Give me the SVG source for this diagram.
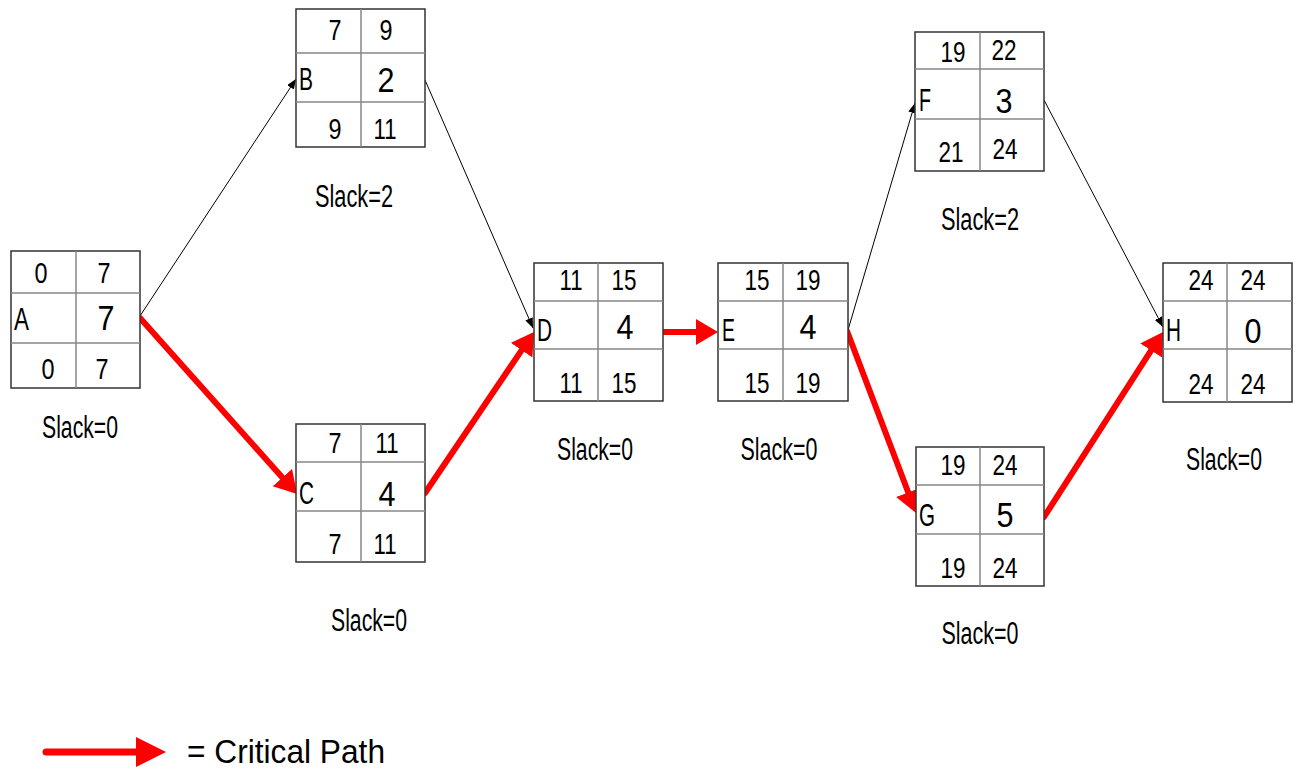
<svg xmlns="http://www.w3.org/2000/svg" width="1302" height="769" viewBox="0 0 1302 769">
<style>
.box{fill:#fff;stroke:#333;stroke-width:1.5}
.div{stroke:#888;stroke-width:1.5;fill:none}
.n{font-family:"Liberation Sans",Arial,sans-serif;font-size:30px;fill:#000;text-anchor:middle}
.big{font-family:"Liberation Sans",Arial,sans-serif;font-size:35px;fill:#000;text-anchor:middle}
.lbl{font-family:"Liberation Sans",Arial,sans-serif;font-size:31px;fill:#000}
.sl{font-family:"Liberation Sans",Arial,sans-serif;font-size:31px;fill:#000;text-anchor:middle}
.blk{stroke:#000;stroke-width:1;fill:none;marker-end:url(#ah)}
.red{stroke:#f00;stroke-width:6;fill:none;stroke-linecap:round;marker-end:url(#rh)}
</style>
<defs>
<marker id="ah" markerUnits="userSpaceOnUse" markerWidth="12" markerHeight="10" refX="10" refY="4" orient="auto"><path d="M0,0 L10,4 L0,8 z" fill="#000"/></marker>
<marker id="rh" markerUnits="userSpaceOnUse" markerWidth="24" markerHeight="28" refX="14" refY="13" orient="auto"><path d="M0,0 L22,13 L0,26 z" fill="#f00"/></marker>
</defs>
<rect width="1302" height="769" fill="#fff"/>

<g id="connectors">
<line class="blk" x1="140" y1="316" x2="296" y2="79"/>
<line class="blk" x1="425" y1="80" x2="533" y2="328"/>
<line class="blk" x1="848" y1="330" x2="915" y2="103"/>
<line class="blk" x1="1044" y1="100" x2="1163" y2="327"/>
<line class="red" x1="140" y1="318" x2="291.7" y2="488"/>
<line class="red" x1="425" y1="493" x2="529.5" y2="338.6"/>
<line class="red" x1="662" y1="332" x2="710" y2="332"/>
<line class="red" x1="847" y1="331" x2="913.2" y2="505.5"/>
<line class="red" x1="1044" y1="517" x2="1158.7" y2="338.7"/>
</g>

<g id="node-A">
<rect class="box" x="11" y="251" width="129" height="137"/>
<path class="div" d="M76,251V388M11,293H140M11,343H140"/>
<text class="n" x="41" y="283" textLength="13" lengthAdjust="spacingAndGlyphs">0</text>
<text class="n" x="104" y="283" textLength="13" lengthAdjust="spacingAndGlyphs">7</text>
<text class="lbl" x="14" y="330" textLength="15" lengthAdjust="spacingAndGlyphs">A</text>
<text class="big" x="106" y="330" textLength="17" lengthAdjust="spacingAndGlyphs">7</text>
<text class="n" x="48" y="379" textLength="13" lengthAdjust="spacingAndGlyphs">0</text>
<text class="n" x="102" y="379" textLength="13" lengthAdjust="spacingAndGlyphs">7</text>
</g>

<g id="node-B">
<rect class="box" x="296" y="9" width="129" height="138"/>
<path class="div" d="M361,9V147M296,53H425M296,102H425"/>
<text class="n" x="335" y="40" textLength="13" lengthAdjust="spacingAndGlyphs">7</text>
<text class="n" x="386" y="40" textLength="13" lengthAdjust="spacingAndGlyphs">9</text>
<text class="lbl" x="299" y="90" textLength="14" lengthAdjust="spacingAndGlyphs">B</text>
<text class="big" x="386" y="92" textLength="17" lengthAdjust="spacingAndGlyphs">2</text>
<text class="n" x="335" y="139" textLength="13" lengthAdjust="spacingAndGlyphs">9</text>
<text class="n" x="385" y="139" textLength="23" lengthAdjust="spacingAndGlyphs">11</text>
</g>

<g id="node-C">
<rect class="box" x="296" y="424" width="129" height="138"/>
<path class="div" d="M361,424V562M296,462H425M296,511H425"/>
<text class="n" x="335" y="453" textLength="13" lengthAdjust="spacingAndGlyphs">7</text>
<text class="n" x="387" y="453" textLength="23" lengthAdjust="spacingAndGlyphs">11</text>
<text class="lbl" x="299" y="504" textLength="15" lengthAdjust="spacingAndGlyphs">C</text>
<text class="big" x="387" y="506" textLength="17" lengthAdjust="spacingAndGlyphs">4</text>
<text class="n" x="335" y="554" textLength="13" lengthAdjust="spacingAndGlyphs">7</text>
<text class="n" x="385" y="554" textLength="23" lengthAdjust="spacingAndGlyphs">11</text>
</g>

<g id="node-D">
<rect class="box" x="534" y="263" width="129" height="138"/>
<path class="div" d="M598,263V401M534,301H663M534,349H663"/>
<text class="n" x="571" y="290" textLength="23" lengthAdjust="spacingAndGlyphs">11</text>
<text class="n" x="624" y="290" textLength="25" lengthAdjust="spacingAndGlyphs">15</text>
<text class="lbl" x="537" y="341" textLength="15" lengthAdjust="spacingAndGlyphs">D</text>
<text class="big" x="625" y="339" textLength="17" lengthAdjust="spacingAndGlyphs">4</text>
<text class="n" x="571" y="393" textLength="23" lengthAdjust="spacingAndGlyphs">11</text>
<text class="n" x="624" y="393" textLength="25" lengthAdjust="spacingAndGlyphs">15</text>
</g>

<g id="node-E">
<rect class="box" x="718" y="263" width="130" height="138"/>
<path class="div" d="M783,263V401M718,301H848M718,349H848"/>
<text class="n" x="757" y="290" textLength="25" lengthAdjust="spacingAndGlyphs">15</text>
<text class="n" x="808" y="290" textLength="25" lengthAdjust="spacingAndGlyphs">19</text>
<text class="lbl" x="722" y="341" textLength="13" lengthAdjust="spacingAndGlyphs">E</text>
<text class="big" x="808" y="339" textLength="17" lengthAdjust="spacingAndGlyphs">4</text>
<text class="n" x="757" y="393" textLength="25" lengthAdjust="spacingAndGlyphs">15</text>
<text class="n" x="808" y="393" textLength="25" lengthAdjust="spacingAndGlyphs">19</text>
</g>

<g id="node-F">
<rect class="box" x="915" y="32" width="129" height="139"/>
<path class="div" d="M980,32V171M915,69H1044M915,119H1044"/>
<text class="n" x="953" y="62" textLength="25" lengthAdjust="spacingAndGlyphs">19</text>
<text class="n" x="1004" y="60" textLength="25" lengthAdjust="spacingAndGlyphs">22</text>
<text class="lbl" x="919" y="111" textLength="12" lengthAdjust="spacingAndGlyphs">F</text>
<text class="big" x="1004" y="113" textLength="17" lengthAdjust="spacingAndGlyphs">3</text>
<text class="n" x="951" y="162" textLength="25" lengthAdjust="spacingAndGlyphs">21</text>
<text class="n" x="1005" y="159" textLength="25" lengthAdjust="spacingAndGlyphs">24</text>
</g>

<g id="node-G">
<rect class="box" x="916" y="447" width="128" height="139"/>
<path class="div" d="M980,447V586M916,485H1044M916,534H1044"/>
<text class="n" x="953" y="475" textLength="25" lengthAdjust="spacingAndGlyphs">19</text>
<text class="n" x="1005" y="475" textLength="25" lengthAdjust="spacingAndGlyphs">24</text>
<text class="lbl" x="919" y="526" textLength="16" lengthAdjust="spacingAndGlyphs">G</text>
<text class="big" x="1005" y="527" textLength="17" lengthAdjust="spacingAndGlyphs">5</text>
<text class="n" x="953" y="578" textLength="25" lengthAdjust="spacingAndGlyphs">19</text>
<text class="n" x="1005" y="578" textLength="25" lengthAdjust="spacingAndGlyphs">24</text>
</g>

<g id="node-H">
<rect class="box" x="1163" y="263" width="129" height="139"/>
<path class="div" d="M1227,263V402M1163,301H1292M1163,349H1292"/>
<text class="n" x="1201" y="290" textLength="25" lengthAdjust="spacingAndGlyphs">24</text>
<text class="n" x="1253" y="290" textLength="25" lengthAdjust="spacingAndGlyphs">24</text>
<text class="lbl" x="1166" y="341" textLength="15" lengthAdjust="spacingAndGlyphs">H</text>
<text class="big" x="1253" y="343" textLength="17" lengthAdjust="spacingAndGlyphs">0</text>
<text class="n" x="1201" y="394" textLength="25" lengthAdjust="spacingAndGlyphs">24</text>
<text class="n" x="1253" y="394" textLength="25" lengthAdjust="spacingAndGlyphs">24</text>
</g>

<g id="slack-labels">
<text class="sl" x="80" y="438" textLength="76" lengthAdjust="spacingAndGlyphs">Slack=0</text>
<text class="sl" x="354" y="207" textLength="78" lengthAdjust="spacingAndGlyphs">Slack=2</text>
<text class="sl" x="369" y="631" textLength="76" lengthAdjust="spacingAndGlyphs">Slack=0</text>
<text class="sl" x="595" y="460" textLength="76" lengthAdjust="spacingAndGlyphs">Slack=0</text>
<text class="sl" x="779" y="460" textLength="77" lengthAdjust="spacingAndGlyphs">Slack=0</text>
<text class="sl" x="980" y="230" textLength="78" lengthAdjust="spacingAndGlyphs">Slack=2</text>
<text class="sl" x="980" y="644" textLength="77" lengthAdjust="spacingAndGlyphs">Slack=0</text>
<text class="sl" x="1224" y="470" textLength="76" lengthAdjust="spacingAndGlyphs">Slack=0</text>
</g>

<g id="legend">
<line x1="46" y1="752" x2="138" y2="752" stroke="#f00" stroke-width="7" stroke-linecap="round"/>
<path d="M136,737 L166,752 L136,767 z" fill="#f00"/>
<text x="187" y="763" font-family="'Liberation Sans',Arial,sans-serif" font-size="34" textLength="198" lengthAdjust="spacingAndGlyphs">= Critical Path</text>
</g>
</svg>
